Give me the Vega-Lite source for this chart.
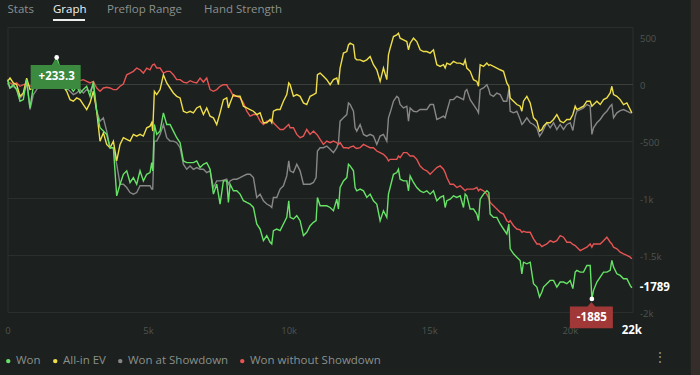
{
"$schema": "https://vega.github.io/schema/vega-lite/v6.json",
"width": 625, "height": 285,
"autosize": {"type": "none"},
"padding": {"left": 7.5, "top": 27, "right": 67.5, "bottom": 63},
"background": "#1c201e",
"config": {"view": {"stroke": "#2a2f2c", "strokeWidth": 1}, "font": "Open Sans", "text": {"font": "Open Sans"}},
"datasets": {
"series": [
{"h":0,"W":38,"E":23,"S":9,"N":23},{"h":89,"W":-35,"E":52,"S":-35,"N":9},{"h":208,"W":-6,"E":9,"S":-20,"N":-6},{"h":326,"W":-49,"E":-6,"S":-49,"N":9},{"h":445,"W":-151,"E":-108,"S":-122,"N":-20},{"h":563,"W":-137,"E":-79,"S":-93,"N":-6},{"h":682,"W":38,"E":52,"S":9,"N":0},{"h":801,"W":-210,"E":-49,"S":-224,"N":-20},{"h":919,"W":-20,"E":-35,"S":-93,"N":-6},{"h":1038,"W":-6,"E":-20,"S":-49,"N":0},{"h":1156,"W":52,"E":-6,"S":-6,"N":9},{"h":1275,"W":81,"E":9,"S":23,"N":23},{"h":1394,"W":111,"E":23,"S":38,"N":17},{"h":1512,"W":140,"E":38,"S":52,"N":29},{"h":1631,"W":169,"E":23,"S":81,"N":38},{"h":1749,"W":233.3,"E":52,"S":111,"N":38},{"h":1868,"W":140,"E":38,"S":52,"N":29},{"h":1987,"W":23,"E":-20,"S":-20,"N":23},{"h":2105,"W":-49,"E":-64,"S":-35,"N":17},{"h":2224,"W":-20,"E":-137,"S":-64,"N":9},{"h":2342,"W":-64,"E":-151,"S":-93,"N":17},{"h":2461,"W":-20,"E":-122,"S":-79,"N":23},{"h":2580,"W":-79,"E":-137,"S":-49,"N":29},{"h":2698,"W":-49,"E":-180,"S":-79,"N":38},{"h":2817,"W":-20,"E":-224,"S":-49,"N":23},{"h":2935,"W":-108,"E":-166,"S":-64,"N":9},{"h":3054,"W":23,"E":-64,"S":-6,"N":23},{"h":3173,"W":-239,"E":-239,"S":-239,"N":-35},{"h":3291,"W":-384,"E":-501,"S":-326,"N":-64},{"h":3410,"W":-413,"E":-428,"S":-297,"N":-35},{"h":3528,"W":-442,"E":-530,"S":-413,"N":-29},{"h":3647,"W":-559,"E":-559,"S":-559,"N":-35},{"h":3766,"W":-559,"E":-501,"S":-559,"N":-49},{"h":3884,"W":-981,"E":-675,"S":-704,"N":-49},{"h":4003,"W":-879,"E":-530,"S":-879,"N":-20},{"h":4121,"W":-792,"E":-471,"S":-879,"N":0},{"h":4240,"W":-762,"E":-486,"S":-908,"N":81},{"h":4359,"W":-864,"E":-501,"S":-952,"N":96},{"h":4477,"W":-821,"E":-442,"S":-966,"N":111},{"h":4596,"W":-879,"E":-457,"S":-952,"N":140},{"h":4714,"W":-762,"E":-442,"S":-893,"N":125},{"h":4833,"W":-850,"E":-457,"S":-893,"N":96},{"h":4952,"W":-792,"E":-384,"S":-893,"N":140},{"h":5070,"W":-777,"E":-370,"S":-893,"N":125},{"h":5129,"W":-690,"E":-340,"S":-922,"N":154},{"h":5165,"W":-762,"E":-413,"S":-922,"N":169},{"h":5224,"W":-355,"E":-64,"S":-501,"N":175},{"h":5307,"W":-442,"E":-93,"S":-501,"N":140},{"h":5426,"W":-413,"E":-49,"S":-442,"N":140},{"h":5545,"W":-253,"E":81,"S":-355,"N":96},{"h":5663,"W":-355,"E":9,"S":-471,"N":111},{"h":5782,"W":-355,"E":-35,"S":-501,"N":111},{"h":5900,"W":-413,"E":-79,"S":-501,"N":81},{"h":6019,"W":-471,"E":-108,"S":-515,"N":38},{"h":6138,"W":-515,"E":-122,"S":-559,"N":38},{"h":6256,"W":-675,"E":-239,"S":-704,"N":17},{"h":6375,"W":-690,"E":-253,"S":-748,"N":9},{"h":6493,"W":-690,"E":-239,"S":-719,"N":29},{"h":6612,"W":-690,"E":-253,"S":-748,"N":17},{"h":6731,"W":-675,"E":-210,"S":-733,"N":9},{"h":6849,"W":-733,"E":-195,"S":-748,"N":52},{"h":6968,"W":-704,"E":-268,"S":-748,"N":17},{"h":7086,"W":-690,"E":-210,"S":-777,"N":52},{"h":7205,"W":-748,"E":-282,"S":-762,"N":-49},{"h":7324,"W":-966,"E":-297,"S":-908,"N":-64},{"h":7442,"W":-879,"E":-355,"S":-850,"N":-49},{"h":7561,"W":-1053,"E":-253,"S":-850,"N":-20},{"h":7679,"W":-850,"E":-137,"S":-844,"N":-6},{"h":7798,"W":-850,"E":-122,"S":-835,"N":-6},{"h":7857,"W":-1039,"E":-210,"S":-879,"N":-35},{"h":7917,"W":-879,"E":-166,"S":-850,"N":-49},{"h":8035,"W":-937,"E":-93,"S":-835,"N":-108},{"h":8154,"W":-937,"E":-108,"S":-835,"N":-108},{"h":8272,"W":-966,"E":-108,"S":-821,"N":-122},{"h":8391,"W":-1024,"E":-195,"S":-806,"N":-166},{"h":8510,"W":-1039,"E":-210,"S":-792,"N":-239},{"h":8628,"W":-1053,"E":-224,"S":-792,"N":-282},{"h":8747,"W":-1083,"E":-239,"S":-821,"N":-268},{"h":8865,"W":-1228,"E":-268,"S":-995,"N":-268},{"h":8984,"W":-1272,"E":-253,"S":-966,"N":-326},{"h":9103,"W":-1374,"E":-340,"S":-1024,"N":-355},{"h":9221,"W":-1330,"E":-340,"S":-1053,"N":-326},{"h":9340,"W":-1388,"E":-311,"S":-1068,"N":-326},{"h":9399,"W":-1403,"E":-340,"S":-1083,"N":-311},{"h":9458,"W":-1286,"E":-239,"S":-995,"N":-340},{"h":9577,"W":-1272,"E":-224,"S":-995,"N":-370},{"h":9696,"W":-1286,"E":-224,"S":-922,"N":-399},{"h":9814,"W":-1228,"E":-151,"S":-893,"N":-399},{"h":9933,"W":-1170,"E":-93,"S":-806,"N":-370},{"h":10004,"W":-1024,"E":9,"S":-675,"N":-355},{"h":10051,"W":-1170,"E":-6,"S":-762,"N":-384},{"h":10170,"W":-1184,"E":-108,"S":-777,"N":-384},{"h":10289,"W":-1155,"E":-93,"S":-704,"N":-442},{"h":10407,"W":-1199,"E":-108,"S":-762,"N":-471},{"h":10526,"W":-1330,"E":-166,"S":-879,"N":-457},{"h":10644,"W":-1301,"E":-180,"S":-879,"N":-399},{"h":10763,"W":-1243,"E":-108,"S":-879,"N":-442},{"h":10882,"W":-1213,"E":-93,"S":-864,"N":-413},{"h":10976,"W":-1199,"E":-79,"S":-821,"N":-436},{"h":11024,"W":-995,"E":81,"S":-588,"N":-448},{"h":11119,"W":-1068,"E":96,"S":-559,"N":-486},{"h":11237,"W":-1068,"E":67,"S":-559,"N":-530},{"h":11356,"W":-1068,"E":38,"S":-544,"N":-501},{"h":11475,"W":-1083,"E":-6,"S":-573,"N":-515},{"h":11593,"W":-1112,"E":38,"S":-602,"N":-501},{"h":11712,"W":-1010,"E":52,"S":-559,"N":-515},{"h":11771,"W":-1097,"E":-6,"S":-515,"N":-530},{"h":11830,"W":-908,"E":140,"S":-326,"N":-515},{"h":11949,"W":-850,"E":271,"S":-297,"N":-559},{"h":12068,"W":-821,"E":285,"S":-268,"N":-559},{"h":12127,"W":-704,"E":343,"S":-166,"N":-565},{"h":12186,"W":-719,"E":358,"S":-180,"N":-553},{"h":12305,"W":-762,"E":343,"S":-239,"N":-544},{"h":12364,"W":-908,"E":227,"S":-384,"N":-559},{"h":12423,"W":-937,"E":212,"S":-413,"N":-565},{"h":12542,"W":-922,"E":212,"S":-355,"N":-559},{"h":12661,"W":-937,"E":198,"S":-442,"N":-530},{"h":12779,"W":-995,"E":212,"S":-457,"N":-544},{"h":12898,"W":-966,"E":242,"S":-442,"N":-559},{"h":13016,"W":-1024,"E":169,"S":-457,"N":-559},{"h":13135,"W":-1053,"E":125,"S":-530,"N":-588},{"h":13254,"W":-1199,"E":23,"S":-457,"N":-602},{"h":13372,"W":-1112,"E":140,"S":-442,"N":-617},{"h":13491,"W":-1170,"E":38,"S":-501,"N":-646},{"h":13550,"W":-966,"E":256,"S":-297,"N":-675},{"h":13609,"W":-908,"E":314,"S":-253,"N":-661},{"h":13728,"W":-792,"E":416,"S":-151,"N":-661},{"h":13847,"W":-777,"E":431,"S":-108,"N":-661},{"h":13906,"W":-748,"E":445,"S":-122,"N":-631},{"h":13965,"W":-835,"E":402,"S":-180,"N":-646},{"h":14084,"W":-850,"E":387,"S":-210,"N":-602},{"h":14203,"W":-850,"E":372,"S":-195,"N":-602},{"h":14262,"W":-937,"E":300,"S":-326,"N":-617},{"h":14321,"W":-806,"E":358,"S":-210,"N":-631},{"h":14440,"W":-864,"E":402,"S":-239,"N":-631},{"h":14558,"W":-908,"E":372,"S":-244,"N":-661},{"h":14677,"W":-937,"E":300,"S":-224,"N":-719},{"h":14795,"W":-952,"E":285,"S":-224,"N":-748},{"h":14914,"W":-937,"E":285,"S":-224,"N":-762},{"h":15032,"W":-966,"E":271,"S":-180,"N":-792},{"h":15151,"W":-937,"E":300,"S":-180,"N":-762},{"h":15270,"W":-1024,"E":169,"S":-311,"N":-733},{"h":15388,"W":-995,"E":154,"S":-297,"N":-719},{"h":15507,"W":-981,"E":169,"S":-282,"N":-748},{"h":15566,"W":-1083,"E":140,"S":-297,"N":-777},{"h":15626,"W":-1024,"E":183,"S":-239,"N":-821},{"h":15744,"W":-1010,"E":169,"S":-137,"N":-879},{"h":15863,"W":-981,"E":198,"S":-137,"N":-879},{"h":15981,"W":-995,"E":183,"S":-108,"N":-908},{"h":16100,"W":-981,"E":183,"S":-122,"N":-893},{"h":16219,"W":-1083,"E":169,"S":-137,"N":-922},{"h":16278,"W":-966,"E":212,"S":-64,"N":-937},{"h":16337,"W":-981,"E":140,"S":-49,"N":-922},{"h":16456,"W":-1097,"E":111,"S":-137,"N":-922},{"h":16574,"W":-1097,"E":38,"S":-180,"N":-922},{"h":16693,"W":-1141,"E":23,"S":-224,"N":-908},{"h":16752,"W":-1199,"E":-20,"S":-253,"N":-937},{"h":16812,"W":-1010,"E":169,"S":-49,"N":-922},{"h":16930,"W":-966,"E":154,"S":-35,"N":-937},{"h":17049,"W":-937,"E":183,"S":-6,"N":-966},{"h":17120,"W":-952,"E":163,"S":-49,"N":-1001},{"h":17167,"W":-1141,"E":169,"S":-93,"N":-1039},{"h":17286,"W":-1170,"E":154,"S":-108,"N":-1068},{"h":17405,"W":-1170,"E":140,"S":-79,"N":-1097},{"h":17523,"W":-1228,"E":125,"S":-93,"N":-1126},{"h":17642,"W":-1272,"E":111,"S":-151,"N":-1141},{"h":17760,"W":-1315,"E":9,"S":-151,"N":-1199},{"h":17832,"W":-1228,"E":-20,"S":-49,"N":-1213},{"h":17879,"W":-1446,"E":-122,"S":-239,"N":-1199},{"h":17998,"W":-1490,"E":-151,"S":-253,"N":-1243},{"h":18116,"W":-1519,"E":-180,"S":-239,"N":-1272},{"h":18235,"W":-1548,"E":-195,"S":-311,"N":-1280},{"h":18294,"W":-1665,"E":-239,"S":-355,"N":-1301},{"h":18353,"W":-1563,"E":-151,"S":-340,"N":-1292},{"h":18472,"W":-1577,"E":-108,"S":-297,"N":-1301},{"h":18591,"W":-1563,"E":-166,"S":-340,"N":-1301},{"h":18709,"W":-1752,"E":-297,"S":-355,"N":-1359},{"h":18828,"W":-1781,"E":-326,"S":-384,"N":-1403},{"h":18923,"W":-1868,"E":-413,"S":-457,"N":-1403},{"h":19006,"W":-1825,"E":-399,"S":-428,"N":-1426},{"h":19065,"W":-1781,"E":-370,"S":-399,"N":-1417},{"h":19183,"W":-1752,"E":-340,"S":-340,"N":-1403},{"h":19302,"W":-1723,"E":-340,"S":-384,"N":-1374},{"h":19421,"W":-1723,"E":-311,"S":-340,"N":-1388},{"h":19539,"W":-1781,"E":-268,"S":-399,"N":-1374},{"h":19658,"W":-1737,"E":-326,"S":-355,"N":-1330},{"h":19776,"W":-1737,"E":-340,"S":-399,"N":-1344},{"h":19895,"W":-1752,"E":-311,"S":-355,"N":-1388},{"h":20014,"W":-1723,"E":-311,"S":-340,"N":-1388},{"h":20109,"W":-1795,"E":-268,"S":-407,"N":-1408},{"h":20192,"W":-1650,"E":-195,"S":-282,"N":-1417},{"h":20251,"W":-1635,"E":-224,"S":-239,"N":-1432},{"h":20370,"W":-1650,"E":-210,"S":-224,"N":-1461},{"h":20488,"W":-1650,"E":-195,"S":-210,"N":-1446},{"h":20607,"W":-1592,"E":-151,"S":-180,"N":-1432},{"h":20725,"W":-1592,"E":-151,"S":-195,"N":-1403},{"h":20785,"W":-1885,"E":-195,"S":-442,"N":-1432},{"h":20844,"W":-1810,"E":-180,"S":-384,"N":-1403},{"h":20963,"W":-1737,"E":-151,"S":-340,"N":-1403},{"h":21081,"W":-1694,"E":-180,"S":-311,"N":-1403},{"h":21200,"W":-1650,"E":-137,"S":-268,"N":-1374},{"h":21318,"W":-1650,"E":-122,"S":-239,"N":-1344},{"h":21437,"W":-1635,"E":-79,"S":-195,"N":-1388},{"h":21496,"W":-1548,"E":-20,"S":-180,"N":-1403},{"h":21556,"W":-1606,"E":-93,"S":-297,"N":-1432},{"h":21674,"W":-1665,"E":-108,"S":-253,"N":-1446},{"h":21793,"W":-1679,"E":-137,"S":-233,"N":-1475},{"h":21911,"W":-1708,"E":-180,"S":-224,"N":-1490},{"h":22030,"W":-1708,"E":-166,"S":-239,"N":-1504},{"h":22148,"W":-1766,"E":-224,"S":-253,"N":-1519},{"h":22207,"W":-1789,"E":-253,"S":-253,"N":-1534}
],
"ann": [
{"h":1749,"v":233.3,"label":"+233.3","k":"max"},
{"h":20785,"v":-1885,"label":"-1885","k":"min"},
{"h":22207,"v":-1789,"label":"-1789","k":"last"}
]
},
"layer": [
{
"data": {"name": "series"},
"transform": [{"fold": ["S","N","E","W"], "as": ["k","v"]}],
"mark": {"type": "line", "strokeWidth": 1.4},
"encoding": {
"x": {"field": "h", "type": "quantitative", "scale": {"domain": [0, 22230], "nice": false, "zero": false},
 "axis": {"orient": "bottom", "values": [0,5000,10000,15000,20000], "labelExpr": "datum.value == 0 ? '0' : (datum.value/1000) + 'k'", "grid": false, "ticks": false, "domain": false, "title": null, "labelColor": "#4e5451", "labelFontSize": 9.5, "labelPadding": 13, "labelFlush": false, "labelFont": "Open Sans"}},
"y": {"field": "v", "type": "quantitative", "scale": {"domain": [-2000, 500], "nice": false, "zero": false},
 "axis": {"orient": "right", "values": [500,0,-500,-1000,-1500,-2000], "labelExpr": "datum.value <= -1000 ? (datum.value/1000) + 'k' : '' + datum.value", "grid": true, "gridColor": {"condition": {"test": "datum.value == 0", "value": "#3a3f3c"}, "value": "#2a2f2c"}, "gridWidth": 1, "ticks": false, "domain": false, "title": null, "labelColor": "#4e5451", "labelFontSize": 9.5, "labelPadding": 7, "labelFlush": false, "labelOffset": {"condition": {"test": "datum.value == 500", "value": 11}, "value": 1}, "labelFont": "Open Sans"}},
"color": {"field": "k", "type": "nominal", "scale": {"domain": ["W","E","S","N"], "range": ["#66e366","#eede4a","#878787","#e65454"]},
 "legend": {"orient": "none", "legendX": -5, "legendY": 328, "direction": "horizontal", "title": null, "symbolType": "circle", "symbolSize": 5, "symbolStrokeWidth": 2.2, "labelColor": "#8a908d", "labelFont": "Open Sans", "labelFontSize": 11.5, "labelOffset": 2, "columnPadding": 8, "labelExpr": "datum.label == 'W' ? 'Won' : datum.label == 'E' ? 'All-in EV' : datum.label == 'S' ? 'Won at Showdown' : 'Won without Showdown'"}}
}
},
{
"data": {"name": "ann"},
"transform": [{"filter": "datum.k == 'max'"}],
"mark": {"type": "point", "shape": "M-1,-0.48 L-0.16,-0.48 L0,-0.72 L0.16,-0.48 L1,-0.48 L1,0.48 L-1,0.48 Z", "size": 2500, "filled": true, "fill": "#3b8a3f", "opacity": 1, "strokeWidth": 0, "yOffset": 19.5, "xOffset": -1},
"encoding": {"x": {"field": "h", "type": "quantitative"}, "y": {"field": "v", "type": "quantitative"}}
},
{
"data": {"name": "ann"},
"transform": [{"filter": "datum.k == 'min'"}],
"mark": {"type": "point", "shape": "M-1,-0.51 L-0.18,-0.51 L0,-0.72 L0.18,-0.51 L1,-0.51 L1,0.51 L-1,0.51 Z", "size": 1849, "filled": true, "fill": "#a03838", "opacity": 1, "strokeWidth": 0, "yOffset": 18.5, "xOffset": -0.5},
"encoding": {"x": {"field": "h", "type": "quantitative"}, "y": {"field": "v", "type": "quantitative"}}
},
{
"data": {"name": "ann"},
"transform": [{"filter": "datum.k != 'last'"}],
"mark": {"type": "point", "shape": "circle", "size": 22, "filled": true, "fill": "#ffffff", "opacity": 1, "strokeWidth": 0},
"encoding": {"x": {"field": "h", "type": "quantitative"}, "y": {"field": "v", "type": "quantitative"}}
},
{
"data": {"name": "ann"},
"transform": [{"filter": "datum.k != 'last'"}],
"mark": {"type": "text", "color": "#ffffff", "fontWeight": "bold", "fontSize": 11.5, "align": "center", "baseline": "middle", "yOffset": 19.5},
"encoding": {"x": {"field": "h", "type": "quantitative"}, "y": {"field": "v", "type": "quantitative"}, "text": {"field": "label"}}
},
{
"data": {"name": "ann"},
"transform": [{"filter": "datum.k == 'last'"}],
"mark": {"type": "text", "color": "#ffffff", "fontWeight": "bold", "fontSize": 11.5, "align": "left", "baseline": "middle", "dx": 8},
"encoding": {"x": {"field": "h", "type": "quantitative"}, "y": {"field": "v", "type": "quantitative"}, "text": {"field": "label"}}
},
{
"data": {"values": [{}]},
"mark": {"type": "text", "color": "#ffffff", "fontWeight": "bold", "fontSize": 11.5, "align": "center", "baseline": "middle", "dy": 19},
"encoding": {"x": {"datum": 22207, "type": "quantitative"}, "y": {"datum": -2000, "type": "quantitative"}, "text": {"value": "22k"}}
},
{
"data": {"values": [{}]},
"mark": {"type": "text", "color": "#8b918e", "fontSize": 11.5, "align": "left", "baseline": "middle"},
"encoding": {"x": {"datum": 0, "type": "quantitative"}, "y": {"datum": 649, "type": "quantitative"}, "text": {"value": "Stats"}}
},
{
"data": {"values": [{}]},
"mark": {"type": "text", "color": "#f2f2f2", "fontSize": 11.5, "align": "left", "baseline": "middle"},
"encoding": {"x": {"datum": 1618, "type": "quantitative"}, "y": {"datum": 649, "type": "quantitative"}, "text": {"value": "Graph"}}
},
{
"data": {"values": [{}]},
"mark": {"type": "text", "color": "#8b918e", "fontSize": 11.5, "align": "left", "baseline": "middle"},
"encoding": {"x": {"datum": 3539, "type": "quantitative"}, "y": {"datum": 649, "type": "quantitative"}, "text": {"value": "Preflop Range"}}
},
{
"data": {"values": [{}]},
"mark": {"type": "text", "color": "#8b918e", "fontSize": 11.5, "align": "left", "baseline": "middle"},
"encoding": {"x": {"datum": 6990, "type": "quantitative"}, "y": {"datum": 649, "type": "quantitative"}, "text": {"value": "Hand Strength"}}
},
{
"data": {"values": [{}]},
"mark": {"type": "rule", "color": "#eeeeee", "strokeWidth": 2},
"encoding": {"x": {"datum": 1618, "type": "quantitative"}, "x2": {"datum": 2757}, "y": {"datum": 561, "type": "quantitative"}}
},
{
"data": {"values": [{}]},
"mark": {"type": "text", "color": "#8a8f8c", "fontSize": 14, "align": "center", "baseline": "middle", "dy": 3},
"encoding": {"x": {"datum": 23210, "type": "quantitative"}, "y": {"datum": -2381, "type": "quantitative"}, "text": {"value": "⋮"}}
},
{
"data": {"values": [{}]},
"mark": {"type": "rule", "color": "#342d2a", "strokeWidth": 10, "opacity": 1},
"encoding": {"x": {"datum": 24480, "type": "quantitative"}, "y": {"datum": 800, "type": "quantitative"}, "y2": {"datum": -2700}}
}
]
}
